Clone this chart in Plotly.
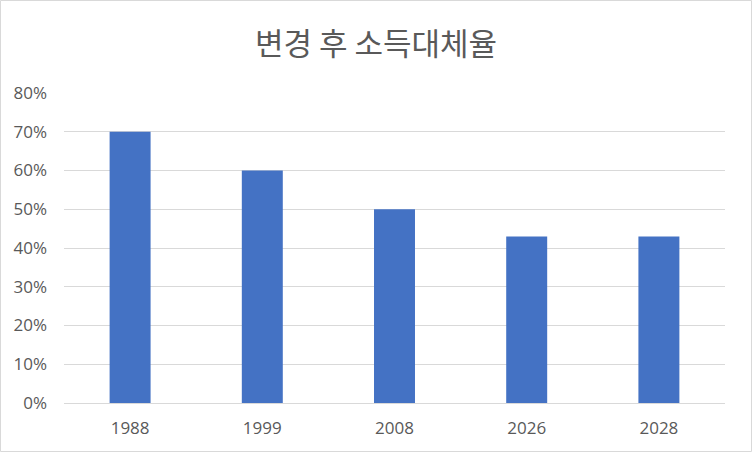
import plotly.graph_objects as go

years = ["1988", "1999", "2008", "2026", "2028"]
rates = [0.70, 0.60, 0.50, 0.43, 0.43]
y_ticks = [0, 0.1, 0.2, 0.3, 0.4, 0.5, 0.6, 0.7, 0.8]
y_tick_labels = ["0%", "10%", "20%", "30%", "40%", "50%", "60%", "70%", "80%"]

W, H = 752, 452
L, R, T, B = 64, 27, 93, 49
pw, ph = W - L - R, H - T - B

fig = go.Figure(go.Bar(x=years, y=rates, marker=dict(color="#4472C4", line=dict(width=0)), width=0.31,
                       hoverinfo="skip"))

def px_x(v):
    return (v - L) / pw

def px_y(v):
    return (H - B - v) / ph

tick_font = dict(size=17, color="#595959", family="Open Sans, sans-serif")

fig.update_layout(
    width=W, height=H,
    margin=dict(l=L, r=R, t=T, b=B),
    paper_bgcolor="white", plot_bgcolor="white",
    font=dict(family="Noto Sans CJK KR, sans-serif", color="#595959", size=14),
    title=dict(text="변경 후 소득대체율", x=0.5, xanchor="center", y=1 - 44 / H, yanchor="middle",
               font=dict(size=31, color="#595959", family="Noto Sans CJK KR")),
    showlegend=False,
    xaxis=dict(type="category", showgrid=False, showline=True, linecolor="#D9D9D9", linewidth=1,
               ticks="", tickfont=tick_font, ticklabelstandoff=10),
    yaxis=dict(range=[0, 0.8], tickvals=y_ticks, ticktext=y_tick_labels, showgrid=True,
               gridcolor="#D9D9D9", gridwidth=1, zeroline=False, showline=False, ticks="",
               tickfont=tick_font, ticklabelstandoff=16),
    shapes=[dict(type="rect", xref="paper", yref="paper",
                 x0=px_x(0.5), x1=px_x(W - 0.5), y0=px_y(H - 0.5), y1=px_y(0.5),
                 line=dict(color="#D9D9D9", width=1), fillcolor="rgba(0,0,0,0)", layer="below")],
)

fig.write_html("out.html", config={"displayModeBar": False},
               post_script="document.body.style.margin='0';document.body.style.overflow='hidden';")
